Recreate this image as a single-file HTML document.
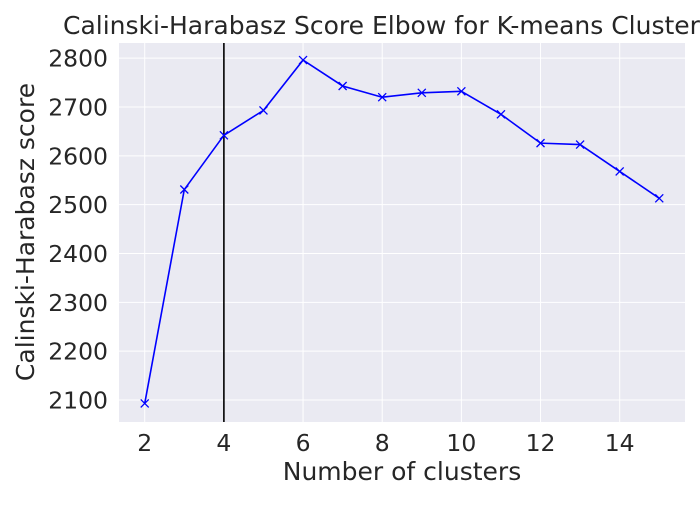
<!DOCTYPE html>
<html><head><meta charset="utf-8"><style>
body{margin:0;background:#fff;overflow:hidden;}
text{font-family:"DejaVu Sans","Liberation Sans",sans-serif;fill:#262626;}
</style></head><body>
<svg id="chart" width="700" height="500" xmlns="http://www.w3.org/2000/svg">
<rect x="119" y="43" width="566" height="379" fill="#eaeaf2"/>
<g id="grid"></g>
<g id="marks"></g>
<g id="ticks"></g>
<text x="63" y="34" font-size="25" text-anchor="start">Calinski-Harabasz Score Elbow for K-means Clustering</text>
<text x="402" y="480" font-size="25" text-anchor="middle">Number of clusters</text>
<text transform="translate(34,232) rotate(-90)" font-size="25" text-anchor="middle">Calinski-Harabasz score</text>
</svg>
<script>
const clusters=[2,3,4,5,6,7,8,9,10,11,12,13,14,15];
const scores=[2093,2531,2642,2693,2796,2743,2720,2729,2732,2685,2626,2623,2568,2513];
const xTicks=[2,4,6,8,10,12,14];
const yTicks=[2100,2200,2300,2400,2500,2600,2700,2800];
const elbowK=4;
const X0=119,X1=685,Y0=422,Y1=43,xmin=1.35,xmax=15.65,ymin=2055,ymax=2831;
const sx=v=>X0+(v-xmin)/(xmax-xmin)*(X1-X0);
const sy=v=>Y0-(v-ymin)/(ymax-ymin)*(Y0-Y1);
const NS="http://www.w3.org/2000/svg";
function mk(t,a,p){const e=document.createElementNS(NS,t);for(const k in a)e.setAttribute(k,a[k]);p.appendChild(e);return e;}
const grid=document.getElementById('grid'),marks=document.getElementById('marks'),ticks=document.getElementById('ticks');
xTicks.forEach(t=>{
 const l=mk('line',{x1:sx(t),x2:sx(t),y1:Y1,y2:Y0,stroke:'#fff','stroke-width':1},grid);
 
 
 const tx=mk('text',{x:sx(t),y:Y0+29,'font-size':23.5,'text-anchor':'middle'},ticks);tx.textContent=t;
 
 
});
yTicks.forEach(t=>{
 const l=mk('line',{x1:X0,x2:X1,y1:sy(t),y2:sy(t),stroke:'#fff','stroke-width':1},grid);
 
 
 const tx=mk('text',{x:X0-11,y:sy(t)+8.5,'font-size':23.5,'text-anchor':'end'},ticks);tx.textContent=t;
 
 
});
const vl=mk('line',{x1:sx(elbowK),x2:sx(elbowK),y1:Y1,y2:Y0,stroke:'#000','stroke-width':1.6},marks);


const pl=mk('polyline',{points:clusters.map((c,i)=>sx(c)+','+sy(scores[i])).join(' '),fill:'none',stroke:'#0000ff','stroke-width':1.6},marks);


clusters.forEach((c,i)=>{
 const x=sx(c),y=sy(scores[i]),s=4;
 const p=mk('path',{d:`M${x-s},${y-s}L${x+s},${y+s}M${x-s},${y+s}L${x+s},${y-s}`,stroke:'#0000ff','stroke-width':1.3},marks);
 
 
});
</script>
</body></html>
